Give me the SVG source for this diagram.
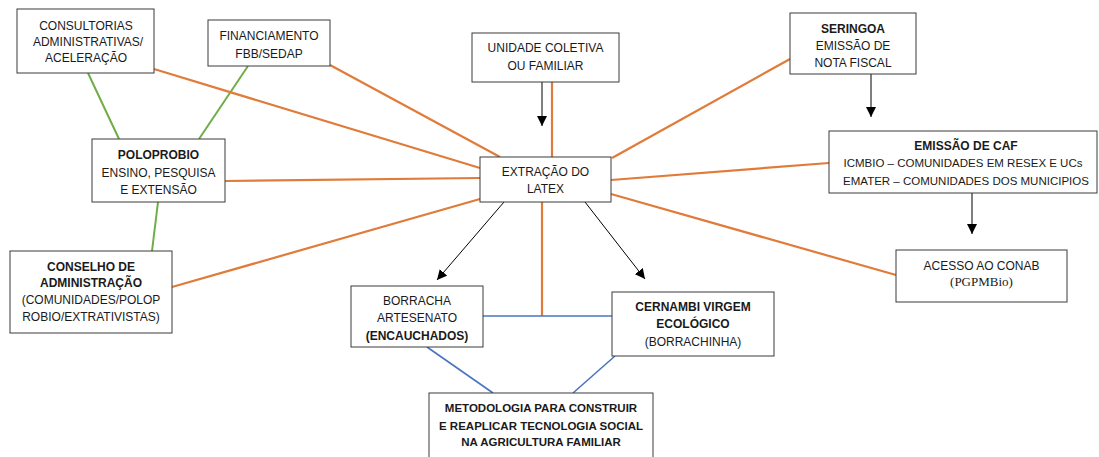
<svg xmlns="http://www.w3.org/2000/svg" width="1099" height="457" viewBox="0 0 1099 457">
<defs>
<marker id="ah" markerWidth="10" markerHeight="10" viewBox="0 0 10 10" refX="10" refY="5" orient="auto" markerUnits="userSpaceOnUse">
<path d="M0,0 L10,5 L0,10 z" fill="#000"/>
</marker>
<style>
.box{fill:#fff;stroke:#3a3a3a;stroke-width:1}
.t{font-family:"Liberation Sans",Arial,sans-serif;font-size:12px;fill:#1a1a1a;text-anchor:middle}
.b{font-weight:bold}
.s{font-size:11.5px}
.serif{font-family:"Liberation Serif","Times New Roman",serif;font-size:13px}
.or{stroke:#E07B39;stroke-width:2.2;fill:none}
.gr{stroke:#70AD47;stroke-width:2;fill:none}
.bl{stroke:#4A74C0;stroke-width:1.6;fill:none}
.ar{stroke:#000;stroke-width:1;fill:none;marker-end:url(#ah)}
</style>
</defs>
<g id="connectors">
<line class="gr" x1="88" y1="73" x2="119" y2="139"/>
<line class="gr" x1="248" y1="66" x2="199" y2="139"/>
<line class="gr" x1="158" y1="202" x2="152" y2="251"/>
<line class="or" x1="154" y1="69" x2="480" y2="168"/>
<line class="or" x1="330" y1="65" x2="500" y2="157"/>
<line class="or" x1="225" y1="181" x2="480" y2="178"/>
<line class="or" x1="172" y1="287" x2="480" y2="199"/>
<line class="or" x1="552" y1="82" x2="552" y2="157"/>
<line class="or" x1="790" y1="59" x2="612" y2="158"/>
<line class="or" x1="829" y1="163" x2="611" y2="180"/>
<line class="or" x1="611" y1="194" x2="896" y2="275"/>
<line class="or" x1="542" y1="202" x2="542" y2="316"/>
<line class="bl" x1="483" y1="316" x2="612" y2="316"/>
<line class="bl" x1="427" y1="347" x2="493" y2="393"/>
<line class="bl" x1="615" y1="356" x2="573" y2="393"/>
<line class="ar" x1="542" y1="82" x2="542" y2="126"/>
<line class="ar" x1="871" y1="74" x2="871" y2="117"/>
<line class="ar" x1="972" y1="193" x2="972" y2="234"/>
<line class="ar" x1="504" y1="202" x2="437" y2="280"/>
<line class="ar" x1="585" y1="202" x2="645" y2="279"/>
</g>
<g id="consultorias">
<rect class="box" x="17" y="9" width="137" height="64"/>
<text class="t" x="86" y="29.5">CONSULTORIAS</text>
<text class="t" x="88" y="45.5">ADMINISTRATIVAS/</text>
<text class="t" x="86" y="62">ACELERAÇÃO</text>
</g>
<g id="financiamento">
<rect class="box" x="208" y="20" width="122" height="46"/>
<text class="t" x="269" y="39.5">FINANCIAMENTO</text>
<text class="t" x="269" y="57.5">FBB/SEDAP</text>
</g>
<g id="poloprobio">
<rect class="box" x="92" y="139" width="133" height="63"/>
<text class="t b" x="158.5" y="159">POLOPROBIO</text>
<text class="t" x="158.5" y="176.5">ENSINO, PESQUISA</text>
<text class="t" x="158.5" y="193.5">E EXTENSÃO</text>
</g>
<g id="conselho">
<rect class="box" x="10" y="251" width="162" height="82"/>
<text class="t b" x="91" y="271">CONSELHO DE</text>
<text class="t b" x="91" y="287">ADMINISTRAÇÃO</text>
<text class="t" x="91" y="304">(COMUNIDADES/POLOP</text>
<text class="t" x="91" y="321">ROBIO/EXTRATIVISTAS)</text>
</g>
<g id="unidade">
<rect class="box" x="472" y="33" width="147" height="49"/>
<text class="t" x="545.5" y="52">UNIDADE COLETIVA</text>
<text class="t" x="545.5" y="70">OU FAMILIAR</text>
</g>
<g id="extracao">
<rect class="box" x="480" y="157" width="131" height="45"/>
<text class="t" x="545.5" y="176">EXTRAÇÃO DO</text>
<text class="t" x="545.5" y="193">LATEX</text>
</g>
<g id="seringoa">
<rect class="box" x="790" y="13" width="126" height="61"/>
<text class="t b" x="853" y="33">SERINGOA</text>
<text class="t" x="853" y="50">EMISSÃO DE</text>
<text class="t" x="853" y="67">NOTA FISCAL</text>
</g>
<g id="caf">
<rect class="box" x="829" y="131" width="268" height="62"/>
<text class="t b" x="966" y="150">EMISSÃO DE CAF</text>
<text class="t s" x="963" y="167">ICMBIO – COMUNIDADES EM RESEX E UCs</text>
<text class="t s" x="966" y="185">EMATER – COMUNIDADES DOS MUNICIPIOS</text>
</g>
<g id="conab">
<rect class="box" x="896" y="250" width="171" height="52"/>
<text class="t" x="981.5" y="270">ACESSO AO CONAB</text>
<text class="t serif" x="981.5" y="286">(PGPMBio)</text>
</g>
<g id="borracha">
<rect class="box" x="351" y="286" width="132" height="61"/>
<text class="t" x="417" y="305">BORRACHA</text>
<text class="t" x="417" y="322">ARTESENATO</text>
<text class="t b" x="417" y="340">(ENCAUCHADOS)</text>
</g>
<g id="cernambi">
<rect class="box" x="612" y="292" width="162" height="64"/>
<text class="t b" x="693" y="311">CERNAMBI VIRGEM</text>
<text class="t b" x="693" y="328">ECOLÓGICO</text>
<text class="t" x="693" y="346">(BORRACHINHA)</text>
</g>
<g id="metodologia">
<rect class="box" x="429" y="393" width="224" height="68"/>
<text class="t b s" x="541" y="412">METODOLOGIA PARA CONSTRUIR</text>
<text class="t b s" x="541" y="430">E REAPLICAR TECNOLOGIA SOCIAL</text>
<text class="t b s" x="541" y="446">NA AGRICULTURA FAMILIAR</text>
</g>
</svg>
